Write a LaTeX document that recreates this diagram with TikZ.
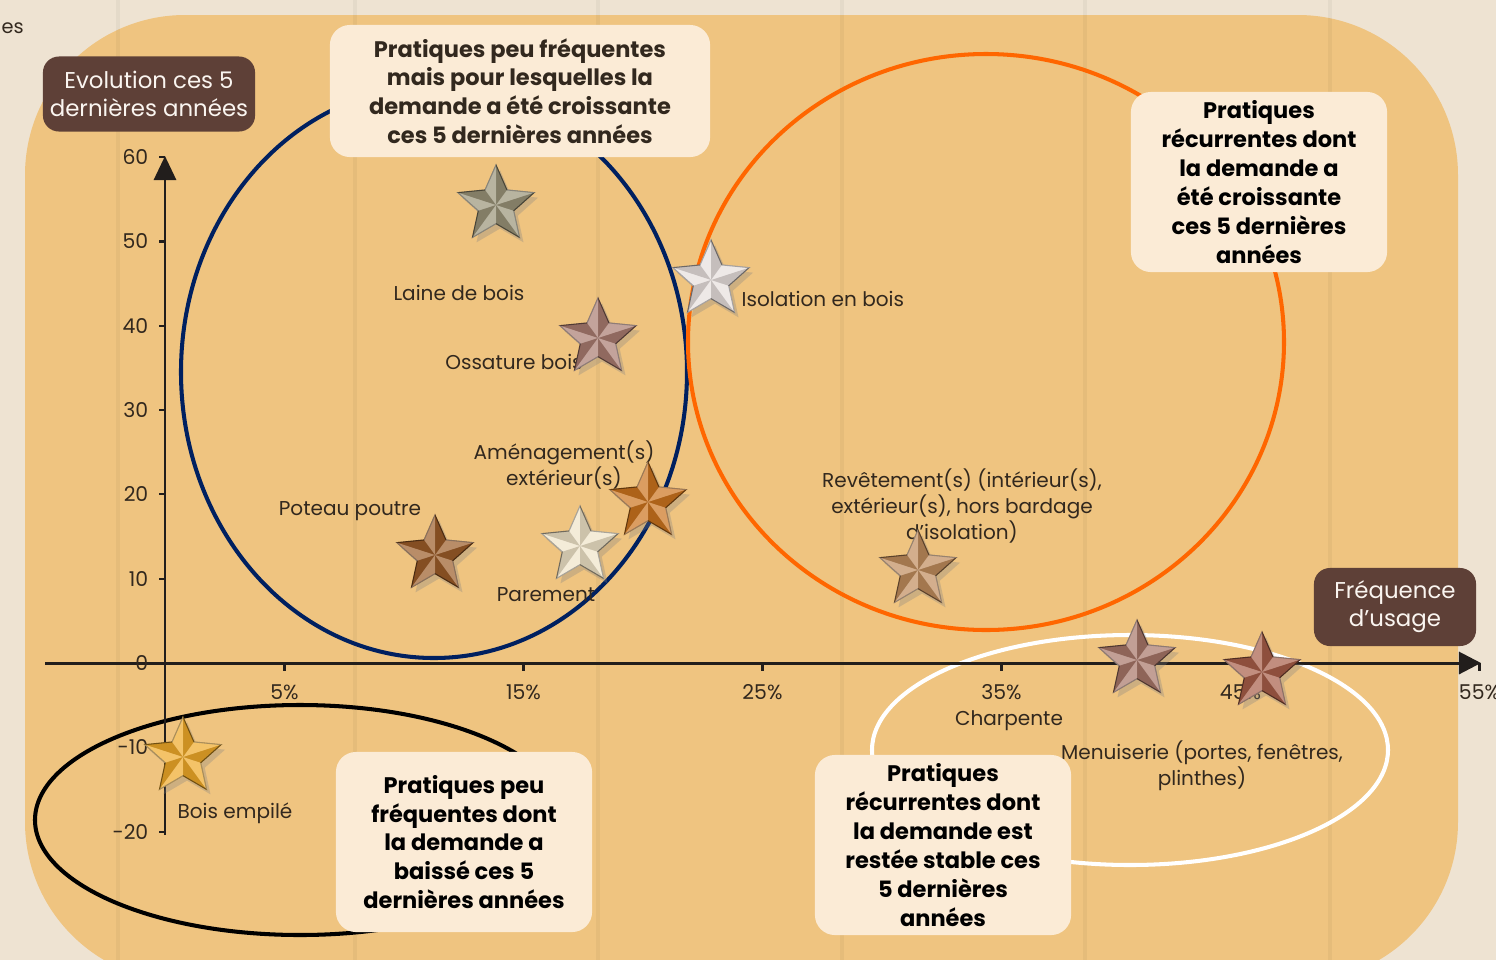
\documentclass[tikz,border=0pt]{standalone}
\usepackage{fontspec}
\setmainfont{Poppins}
\usetikzlibrary{shapes.geometric, arrows.meta, shadows}

\definecolor{woodbg}{RGB}{238,227,210}
\definecolor{woodtan}{RGB}{239,196,128}
\definecolor{boxcream}{RGB}{251,235,214}
\definecolor{boxbrown}{RGB}{94,64,55}
\definecolor{axisgray}{RGB}{34,30,28}
\definecolor{navy1}{RGB}{0,32,96}
\definecolor{orange2}{RGB}{255,102,0}
\definecolor{labeltxt}{RGB}{50,40,30}
\definecolor{starolive}{RGB}{154,148,120}
\definecolor{starsilver}{RGB}{232,224,222}
\definecolor{starmauve}{RGB}{170,124,112}
\definecolor{starorange}{RGB}{204,116,30}
\definecolor{starcream}{RGB}{240,228,200}
\definecolor{starbrown}{RGB}{156,92,40}
\definecolor{startan}{RGB}{192,140,92}
\definecolor{starrose}{RGB}{168,118,104}
\definecolor{starrust}{RGB}{168,94,72}
\definecolor{stargold}{RGB}{240,170,40}

% light and dark facets on a star node
\newcommand{\facets}[1]{%
  \foreach \i in {1,...,5}{
    \pgfmathtruncatemacro\j{mod(\i,5)+1}
    \fill[white, opacity=0.3] (#1.center) -- (#1.outer point \i) -- (#1.inner point \i) -- cycle;
    \fill[black, opacity=0.15] (#1.center) -- (#1.inner point \i) -- (#1.outer point \j) -- cycle;
  }}

\begin{document}
\begin{tikzpicture}[x=0.01cm, y=-0.01cm,
  catbox/.style={fill=boxcream, rounded corners=0.2cm, align=center, inner sep=0pt, font=\fontsize{6.4}{8.2}\selectfont\bfseries},
  axisbox/.style={fill=boxbrown, rounded corners=0.16cm, align=center, inner sep=0pt, text=white!92!brown, font=\fontsize{6.5}{8}\selectfont},
  ptlabel/.style={text=labeltxt, align=center, inner sep=0pt, font=\fontsize{5.7}{7.3}\selectfont},
  ticklabel/.style={text=labeltxt, inner sep=0pt, font=\fontsize{5.8}{7}\selectfont},
  ring/.style={line width=1.15pt},
  axisline/.style={axisgray, line width=0.85pt},
  bevstar/.style={star, star points=5, star point ratio=2.15, minimum size=0.8cm, inner sep=0pt,
    fill=#1, draw=#1!55!black, line width=0.3pt,
    drop shadow={opacity=0.3, shadow xshift=0.04cm, shadow yshift=-0.05cm}},
]
  \useasboundingbox (0,0) rectangle (1496,960);
  \clip (0,0) rectangle (1496,960);

  % wood background
  \fill[woodbg] (0,0) rectangle (1496,960);
  \fill[woodtan, rounded corners=1.6cm] (25,15) rectangle (1458,982);
  \foreach \px in {118,355,598,842,1085,1330}
    \draw[black, opacity=0.04, line width=1pt] (\px,0) -- (\px,960);
  \node[ptlabel, anchor=west, font=\fontsize{5.5}{7}\selectfont] (frag) at (1,28) {es};

  % groups
  \draw[ring, navy1] (434,372) ellipse [x radius=253, y radius=286];
  \draw[ring, orange2] (986,342) ellipse [x radius=298, y radius=288];
  \draw[ring, white] (1130,750) ellipse [x radius=258, y radius=115];
  \draw[ring, black] (300,820) ellipse [x radius=265, y radius=115];

  % axes
  \coordinate (ybot) at (165,835);
  \coordinate (ytop) at (165,156);
  \coordinate (xleft) at (45,663);
  \coordinate (xright) at (1481,663);
  \draw[axisline, -{Triangle[length=0.24cm, width=0.22cm]}] (ybot) -- (ytop);
  \draw[axisline, -{Triangle[length=0.22cm, width=0.22cm]}] (xleft) -- (xright);
  \foreach \v [count=\k] in {-20,-10,0,10,20,30,40,50,60}{
    \draw[axisline, line width=0.6pt] (159,663-8.43*\v) -- (165,663-8.43*\v);
    \node[ticklabel, anchor=east] (ytick\k) at (149,663-8.43*\v) {\v};
  }
  \foreach \p [count=\k] in {5,15,25,35,45,55}{
    \draw[axisline, line width=0.6pt] (165+23.9*\p,663) -- (165+23.9*\p,671);
    \node[ticklabel] (xtick\k) at (165+23.9*\p,692) {\p\%};
  }

  % practice labels
  \node[ptlabel] (tLaine) at (459,293) {Laine de bois};
  \node[ptlabel, anchor=west] (tIsol) at (741,299) {Isolation en bois};
  \node[ptlabel] (tOss) at (514,362) {Ossature bois};
  \node[ptlabel] (tAmen) at (564,465) {Aménagement(s)\\extérieur(s)};
  \node[ptlabel] (tPot) at (350,511) {Poteau poutre};
  \node[ptlabel] (tPar) at (546,595) {Parement};
  \node[ptlabel] (tRev) at (962,506) {Revêtement(s) (intérieur(s),\\extérieur(s), hors bardage\\d'isolation)};
  \node[ptlabel] (tCharp) at (1009,721) {Charpente};
  \node[ptlabel] (tMen) at (1202,766) {Menuiserie (portes, fenêtres,\\plinthes)};
  \node[ptlabel] (tBois) at (235,813) {Bois empilé};

  % stars
  \node[bevstar=starolive] (sLaine) at (496,205) {};
  \node[bevstar=starsilver] (sIsol) at (711,280) {};
  \node[bevstar=starmauve] (sOss) at (598,338) {};
  \node[bevstar=starorange] (sAmen) at (648,502) {};
  \node[bevstar=starcream] (sPar) at (580,546) {};
  \node[bevstar=starbrown] (sPot) at (435,555) {};
  \node[bevstar=startan] (sRev) at (918,570) {};
  \node[bevstar=starrose] (sCharp) at (1137,660) {};
  \node[bevstar=starrust] (sMen) at (1262,672) {};
  \node[bevstar=stargold] (sBois) at (183,757) {};
  \foreach \s in {sLaine,sIsol,sOss,sAmen,sPar,sPot,sRev,sCharp,sMen,sBois}{
    \facets{\s}
  }

  % category boxes
  \node[catbox, text=labeltxt, minimum width=3.8cm, minimum height=1.32cm] (cTop) at (520,91)
    {Pratiques peu fréquentes\\mais pour lesquelles la\\demande a été croissante\\ces 5 dernières années};
  \node[catbox, minimum width=2.56cm, minimum height=1.8cm] (cTopR) at (1259,182)
    {Pratiques\\récurrentes dont\\la demande a\\été croissante\\ces 5 dernières\\années};
  \node[catbox, minimum width=2.56cm, minimum height=1.8cm] (cBot) at (464,842)
    {Pratiques peu\\fréquentes dont\\la demande a\\baissé ces 5\\dernières années};
  \node[catbox, minimum width=2.56cm, minimum height=1.8cm] (cBotR) at (943,845)
    {Pratiques\\récurrentes dont\\la demande est\\restée stable ces\\5 dernières\\années};

  % axis titles
  \node[axisbox, minimum width=2.12cm, minimum height=0.75cm] (yTitle) at (149,94)
    {Evolution ces 5\\dernières années};
  \node[axisbox, minimum width=1.62cm, minimum height=0.78cm] (xTitle) at (1395,607)
    {Fréquence\\d’usage};
\end{tikzpicture}
\end{document}
